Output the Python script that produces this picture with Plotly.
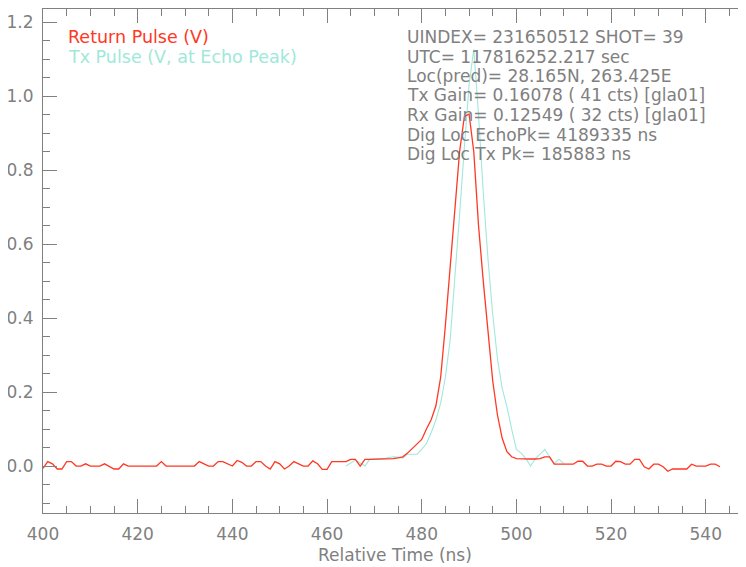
import plotly.graph_objects as go

# Return pulse: 1 ns samples from 400 to 543 ns
ret_t = list(range(400, 544))
ret_v = [
    -0.006, 0.012, 0.006, -0.008, -0.008, 0.012, 0.012, 0.0, 0.0, 0.006,   # 400-409
    0.0, 0.0, 0.0, 0.006, 0.0, -0.008, -0.008, 0.006, 0.0, 0.0,            # 410-419
    0.0, 0.0, 0.0, 0.0, 0.0, 0.012, 0.0, 0.0, 0.0, 0.0,                    # 420-429
    0.0, 0.0, 0.0, 0.012, 0.006, 0.0, 0.0, 0.012, 0.012, 0.006,            # 430-439
    0.0, 0.015, 0.01, 0.0, 0.0, 0.012, 0.012, 0.0, -0.008, 0.012,          # 440-449
    0.006, -0.008, 0.0, 0.012, 0.006, 0.0, 0.0, 0.014, 0.006, -0.009,      # 450-459
    -0.009, 0.012, 0.012, 0.012, 0.012, 0.018, 0.018, 0.0, 0.018, 0.018,  # 460-469
    0.018, 0.018, 0.018, 0.02, 0.02, 0.022, 0.025, 0.035, 0.048, 0.06,     # 470-479
    0.072, 0.1, 0.125, 0.163, 0.24, 0.38, 0.53, 0.69, 0.85, 0.945,         # 480-489
    0.952, 0.85, 0.65, 0.5, 0.36, 0.23, 0.138, 0.075, 0.039, 0.025,        # 490-499
    0.02, 0.019, 0.019, 0.019, 0.019, 0.02, 0.025, 0.025, 0.005, 0.005,    # 500-509
    0.005, 0.005, 0.005, 0.013, 0.013, 0.0, 0.0, 0.005, 0.005, 0.0,        # 510-519
    0.0, 0.013, 0.012, 0.005, 0.005, 0.018, 0.018, -0.002, -0.008, 0.005,  # 520-529
    0.005, -0.002, -0.014, -0.008, -0.008, -0.008, -0.008, 0.005, 0.0, 0.0,  # 530-539
    0.0, 0.005, 0.005, -0.002,                                            # 540-543
]

# Tx pulse (aligned at echo peak): 1 ns samples from 464 to 510 ns
tx_t = list(range(464, 511))
tx_v = [
    0.0, 0.008, 0.016, 0.008, 0.0, 0.018,                                 # 464-469
    0.02, 0.02, 0.02, 0.022, 0.025, 0.024, 0.021, 0.032, 0.032, 0.032,    # 470-479
    0.045, 0.061, 0.09, 0.125, 0.17, 0.24, 0.34, 0.5, 0.68, 0.86,         # 480-489
    1.03, 1.127, 0.95, 0.74, 0.56, 0.41, 0.29, 0.21, 0.16, 0.1,           # 490-499
    0.045, 0.035, 0.02, 0.0, 0.02, 0.032, 0.045, 0.025, 0.007, 0.018,     # 500-509
    0.007,                                                                # 510
]

legend_labels = ["Return Pulse (V)", "Tx Pulse (V, at Echo Peak)"]
info_lines = [
    "UINDEX= 231650512 SHOT= 39",
    "UTC= 117816252.217 sec",
    "Loc(pred)= 28.165N, 263.425E",
    "Tx Gain= 0.16078 ( 41 cts) [gla01]",
    "Rx Gain= 0.12549 ( 32 cts) [gla01]",
    "Dig Loc EchoPk= 4189335 ns",
    "Dig Loc Tx Pk= 185883 ns",
]

RED = "rgb(255,55,35)"
CYAN = "rgb(160,232,218)"
GRAY = "#808080"
FONT = "DejaVu Sans"

# The page body has an 8 px default margin, so the figure is offset by (8, 8).
OFF = 8
W, H = 746 - OFF, 567 - OFF
# plot area in page pixels: left 43, right 746, top 9, bottom 513
PL, PR, PT, PB = 43, 746, 9, 513
ML, MR, MT, MB = PL - OFF, (746 - OFF) - (PR - OFF), PT - OFF, H - (PB - OFF)
PW, PH = PR - PL, PB - PT

def px_x(px):
    return (px - PL) / PW

def px_y(py):
    return (PB - py) / PH

fig = go.Figure()
fig.add_trace(go.Scatter(x=tx_t, y=tx_v, mode="lines",
                         line=dict(color=CYAN, width=1.1), showlegend=False))
fig.add_trace(go.Scatter(x=ret_t, y=ret_v, mode="lines",
                         line=dict(color=RED, width=1.3), showlegend=False))

annotations = []
for i, (lab, col) in enumerate(zip(legend_labels, [RED, CYAN])):
    annotations.append(dict(
        x=px_x(66), y=px_y(37 + 19.5 * i), xref="paper", yref="paper",
        xanchor="left", yanchor="middle", text=lab, showarrow=False,
        font=dict(family=FONT, size=17.5, color=col)))
for i, line in enumerate(info_lines):
    annotations.append(dict(
        x=px_x(405), y=px_y(37 + 19.5 * i), xref="paper", yref="paper",
        xanchor="left", yanchor="middle", text=line, showarrow=False,
        font=dict(family=FONT, size=17, color=GRAY)))
annotations.append(dict(
    x=0.5, y=px_y(555), xref="paper", yref="paper",
    xanchor="center", yanchor="middle", text="Relative Time (ns)",
    showarrow=False, borderpad=0,
    font=dict(family=FONT, size=17, color=GRAY)))

axis_common = dict(
    showgrid=False, zeroline=False, showline=True, linecolor=GRAY, linewidth=1,
    ticks="inside", ticklen=14, tickwidth=1, tickcolor=GRAY,
    tickfont=dict(family=FONT, size=17, color=GRAY),
)

YR = [-0.127, 1.236]

fig.update_layout(
    width=W, height=H,
    margin=dict(l=ML, r=MR, t=MT, b=MB, pad=0),
    paper_bgcolor="white", plot_bgcolor="white",
    showlegend=False,
    annotations=annotations,
    xaxis=dict(range=[400, 548.5], dtick=20, tick0=400, mirror="ticks",
               ticklabelstandoff=6,
               minor=dict(ticks="inside", ticklen=7, dtick=5, tickcolor=GRAY),
               **axis_common),
    yaxis=dict(range=YR, dtick=0.2, tick0=0, tickformat=".1f",
               ticklabelstandoff=5,
               minor=dict(ticks="inside", ticklen=7, dtick=0.05, tick0=0, tickcolor=GRAY),
               **axis_common),
    yaxis2=dict(range=YR, overlaying="y", side="right",
                dtick=0.2, tick0=0, ticks="inside", ticklen=6, tickcolor=GRAY,
                showticklabels=False, showline=False, showgrid=False, zeroline=False),
)

fig.write_html("out.html")
